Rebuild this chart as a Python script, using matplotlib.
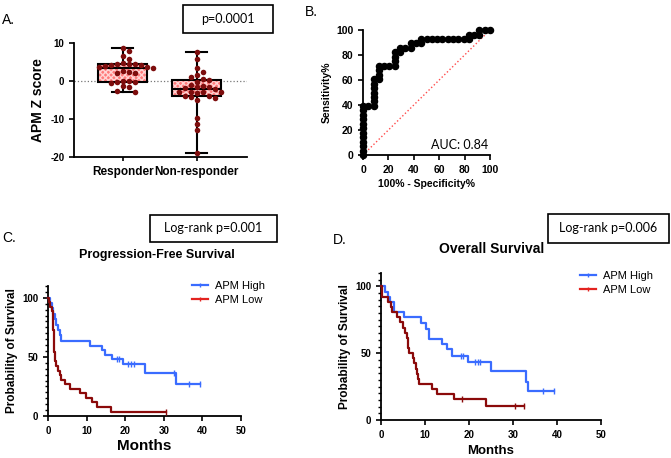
import matplotlib
matplotlib.use("Agg")
import matplotlib.pyplot as plt
from matplotlib.patches import PathPatch, Rectangle
from matplotlib.lines import Line2D
from matplotlib.ticker import MultipleLocator
import numpy as np

plt.rcParams['font.family'] = ['Liberation Sans', 'DejaVu Sans']
plt.rcParams['axes.unicode_minus'] = False
plt.rcParams['axes.linewidth'] = 1.3
plt.rcParams['xtick.major.width'] = 1.2
plt.rcParams['ytick.major.width'] = 1.2
plt.rcParams['ytick.minor.width'] = 1.0
plt.rcParams['xtick.major.size'] = 3.5
plt.rcParams['ytick.major.size'] = 3.5
plt.rcParams['ytick.minor.size'] = 2.2

# ---- data ----
groups = ["Responder", "Non-responder"]
responder = [8.7, 7.9, 6.6, 5.9, 4.7, 4.4, 4.4, 4.4, 4.2, 4.2, 4.0, 3.8, 3.6, 3.5,
             2.7, 2.5, 2.0, 2.0, 0.1, -0.1, -0.2, -0.3, -0.5, -1.4, -1.6, -2.7, -2.8]
non_responder = [7.7, 5.8, 3.3, 2.3, 1.6, 1.0, 0.4, 0.2, -0.2, -1.0, -1.4, -1.5, -1.7,
                 -1.9, -2.0, -2.8, -2.8, -2.8, -3.0, -3.2, -3.9, -4.0, -4.3, -4.4,
                 -5.0, -9.7, -11.2, -13.0, -18.9]

roc_fpr = [0, 0, 0, 0, 0, 0, 0, 0, 0, 0, 0, 0,
           4.2, 8.3, 8.3, 8.3, 8.3, 8.3, 8.3, 8.3,
           12.5, 12.5, 12.5, 12.5, 16.7, 20.8, 25, 25, 25, 25,
           29.2, 29.2, 33.3, 37.5, 37.5, 41.7, 45.8, 45.8,
           50, 54.2, 58.3, 62.5, 66.7, 70.8, 75, 79.2, 83.3, 83.3,
           87.5, 91.7, 91.7, 95.8, 100]
roc_tpr = [0, 3.6, 7.1, 10.7, 14.3, 17.9, 21.4, 25, 28.6, 32.1, 35.7, 39.3,
           39.3, 39.3, 42.9, 46.4, 50, 53.6, 57.1, 60.7,
           60.7, 64.3, 67.9, 71.4, 71.4, 71.4, 71.4, 75, 78.6, 82.1,
           82.1, 85.7, 85.7, 85.7, 89.3, 89.3, 89.3, 92.9,
           92.9, 92.9, 92.9, 92.9, 92.9, 92.9, 92.9, 92.9, 92.9, 96.4,
           96.4, 96.4, 100, 100, 100]
auc_label = "AUC: 0.84"

# Kaplan-Meier step curves (time of drop, survival after drop), end of follow-up, censor times
pfs_high_t = [0, 0.5, 1.0, 1.4, 1.8, 2.2, 2.7, 3.0, 3.3, 10.9, 13.9, 14.8, 16.5, 19.5, 25.1, 33.2]
pfs_high_s = [100, 95.5, 91, 86.4, 81.8, 77.3, 72.7, 68.2, 63.6, 59.5, 55.5, 51.5, 48, 43.8, 36, 27.5]
pfs_high_end = 39.4
pfs_high_cens = [18.0, 18.5, 20.6, 21.4, 22.3, 32.6, 36.6, 39.4]

pfs_low_t = [0, 0.3, 0.6, 1.0, 1.2, 1.3, 1.35, 1.4, 1.45, 1.5, 1.55, 1.6, 1.65, 1.7, 1.8,
             2.2, 2.6, 3.0, 3.4, 4.5, 5.8, 8.4, 9.9, 11.4, 12.7, 16.4]
pfs_low_s = [100, 96.2, 92.3, 88.5, 84.6, 80.8, 76.9, 73.1, 69.2, 65.4, 61.5, 57.7, 53.8, 50,
             46.2, 42.3, 38.5, 34.6, 30.8, 26.9, 23.1, 19.2, 15.4, 11.5, 7.7, 3.8]
pfs_low_end = 30.6
pfs_low_cens = [30.6]

os_high_t = [0, 0.9, 1.5, 2.1, 2.9, 5.2, 9.0, 10.3, 10.8, 13.9, 15.0, 16.1, 19.8, 25.0, 33.0, 33.4]
os_high_s = [100, 96, 92, 88, 80.5, 76.8, 72.5, 68, 60.3, 56.8, 53.5, 47.7, 43.4, 36.4, 28.8, 22]
os_high_end = 39.4
os_high_cens = [18.2, 18.6, 21.4, 22.0, 22.6, 36.8, 39.4]

os_low_t = [0, 0.2, 1.5, 2.3, 2.5, 3.6, 4.4, 5.0, 5.5, 5.8, 6.1, 6.2, 6.3, 7.3, 7.6, 7.9,
            8.1, 8.4, 8.6, 11.6, 12.7, 16.5, 23.9]
os_low_s = [100, 92.3, 88.5, 84.6, 80.8, 76.9, 73.1, 69.2, 65.4, 61.5, 57.7, 53.8, 50,
            46.2, 42.3, 38.5, 34.6, 30.8, 26.9, 23.1, 19.2, 15.4, 10.3]
os_low_end = 32.6
os_low_cens = [18.4, 30.4, 32.6]

BLUE = "#3a6cff"
MAROON = "#8b0a0a"
LEG_RED = "#e3231f"
DOT = "#7d0d0d"


def swarm(vals, dx_px=74.0, dy_px=3.8, d=6.0):
    # simple deterministic beeswarm offsets in data units
    order = np.argsort(vals)[::-1]
    placed = []
    offs = np.zeros(len(vals))
    cands = [0]
    for k in range(1, 15):
        cands += [k * d / dx_px, -k * d / dx_px]
    for i in order:
        y = vals[i]
        for c in cands:
            if all(((c - px) * dx_px) ** 2 + ((y - py) * dy_px) ** 2 >= (d * 0.95) ** 2
                   for px, py in placed):
                offs[i] = c
                placed.append((c, y))
                break
    return offs


def km(ax, t, s, end, cens, color):
    tt = list(t) + [end]
    ss = list(s) + [s[-1]]
    ax.step(tt, ss, where='post', color=color, lw=1.6, clip_on=False, zorder=3)
    cy = [ss[np.searchsorted(tt, c, side='right') - 1] for c in cens]
    ax.plot(cens, cy, ls='none', marker='|', ms=4, mew=1.0, color=color,
            clip_on=False, zorder=3)


fig = plt.figure(figsize=(6.71, 4.58), dpi=100)
W, H = 671.0, 458.0


def fx(px):
    return px / W


def fy(py):
    return 1 - py / H


def boxtext(x0, y0, x1, y1, txt):
    fig.patches.append(Rectangle((fx(x0), fy(y1)), fx(x1) - fx(x0), fy(y0) - fy(y1),
                                 transform=fig.transFigure, fill=False, ec='black', lw=1.2))
    fig.text(fx((x0 + x1) / 2), fy((y0 + y1) / 2), txt, ha='center', va='center',
             fontsize=9, family=['Lato', 'DejaVu Sans'])


def style(ax, size=7):
    ax.spines['top'].set_visible(False)
    ax.spines['right'].set_visible(False)
    for lab in ax.get_xticklabels() + ax.get_yticklabels():
        lab.set_fontweight('bold')
        lab.set_fontsize(size)


# ---- A: box plot ----
axA = fig.add_axes([fx(74), fy(157), fx(247) - fx(74), fy(43) - fy(157)])
bp = axA.boxplot([responder, non_responder], positions=[0, 1], widths=0.66, whis=(0, 100),
                 patch_artist=True, capwidths=0.28, showfliers=False,
                 boxprops=dict(facecolor='none', edgecolor='black', lw=1.5),
                 medianprops=dict(color='black', lw=1.5),
                 whiskerprops=dict(color='black', lw=1.5),
                 capprops=dict(color='black', lw=1.5))
for b in bp['boxes']:
    b.set_zorder(2)
    axA.add_patch(PathPatch(b.get_path(), facecolor='#ff7a7a', edgecolor='#ffd4d4',
                            lw=0, hatch='xxxxxx', zorder=1))
for k, vals in enumerate([responder, non_responder]):
    offs = swarm(np.array(vals))
    axA.scatter(k + offs, vals, s=16, color=DOT, zorder=4, lw=0)
axA.axhline(0, ls=':', color='#777777', lw=0.9, zorder=0)
axA.set_xlim(-0.66, 1.68)
axA.set_ylim(-20, 10)
axA.set_yticks([-20, -10, 0, 10])
axA.set_xticks([0, 1])
axA.set_xticklabels(groups)
axA.tick_params(axis='x', length=3)
style(axA)
for lab in axA.get_xticklabels():
    lab.set_fontsize(8.5)
axA.set_ylabel("APM Z score", fontsize=10, fontweight='bold', labelpad=4)
fig.text(fx(2), fy(20), "A.", fontsize=10, va='center')
boxtext(183, 5, 273, 33, "p=0.0001")

# ---- B: ROC ----
axB = fig.add_axes([fx(363), fy(155), fx(490) - fx(363), fy(30) - fy(155)])
axB.plot([0, 100], [0, 100], ls=':', color='#ff4a4a', lw=1.0, zorder=1)
axB.plot(roc_fpr, roc_tpr, color='black', lw=1.0, marker='o', ms=4.4, clip_on=False, zorder=3)
axB.set_xlim(0, 100)
axB.set_ylim(0, 100)
axB.set_xticks(range(0, 101, 20))
axB.set_yticks(range(0, 101, 20))
style(axB, 7.5)
axB.set_xlabel("100% - Specificity%", fontsize=7.5, fontweight='bold', labelpad=3)
axB.set_ylabel("Sensitivity%", fontsize=7.5, fontweight='bold', labelpad=3)
axB.text(0.99, 0.03, auc_label, transform=axB.transAxes, ha='right', va='bottom',
         fontsize=9, family=['Lato', 'DejaVu Sans'])
fig.text(fx(305), fy(12), "B.", fontsize=10, va='center')

# ---- C: PFS ----
axC = fig.add_axes([fx(48), fy(416), fx(241) - fx(48), fy(286) - fy(416)])
km(axC, pfs_high_t, pfs_high_s, pfs_high_end, pfs_high_cens, BLUE)
km(axC, pfs_low_t, pfs_low_s, pfs_low_end, pfs_low_cens, MAROON)
axC.set_xlim(0, 50)
axC.set_ylim(0, 110)
axC.set_xticks(range(0, 51, 10))
axC.set_yticks([0, 50, 100])
axC.yaxis.set_minor_locator(MultipleLocator(5))
style(axC)
axC.set_xlabel("Months", fontsize=11, fontweight='bold', labelpad=2)
axC.set_ylabel("Probability of Survival", fontsize=8.5, fontweight='bold', labelpad=3)
fig.text(fx(157), fy(255), "Progression-Free Survival", fontsize=9, fontweight='bold',
         ha='center', va='center')
fig.text(fx(2), fy(238), "C.", fontsize=10, va='center')
boxtext(150, 215, 277, 242, "Log-rank p=0.001")

# ---- D: OS ----
axD = fig.add_axes([fx(381), fy(420), fx(601) - fx(381), fy(273) - fy(420)])
km(axD, os_high_t, os_high_s, os_high_end, os_high_cens, BLUE)
km(axD, os_low_t, os_low_s, os_low_end, os_low_cens, MAROON)
axD.set_xlim(0, 50)
axD.set_ylim(0, 110)
axD.set_xticks(range(0, 51, 10))
axD.set_yticks([0, 50, 100])
axD.yaxis.set_minor_locator(MultipleLocator(5))
style(axD)
axD.set_xlabel("Months", fontsize=9.5, fontweight='bold', labelpad=4)
axD.set_ylabel("Probability of Survival", fontsize=8.5, fontweight='bold', labelpad=3)
fig.text(fx(492), fy(249), "Overall Survival", fontsize=10, fontweight='bold',
         ha='center', va='center')
fig.text(fx(333), fy(240), "D.", fontsize=10, va='center')
boxtext(548, 214, 669, 243, "Log-rank p=0.006")

handles = [Line2D([], [], color=BLUE, lw=1.6, marker='|', ms=3),
           Line2D([], [], color=LEG_RED, lw=1.6, marker='|', ms=3)]
for ax, (lx, ly) in [(axC, (186, 275)), (axD, (574, 265))]:
    ax.legend(handles, ["APM High", "APM Low"], loc='upper left',
              bbox_to_anchor=(fx(lx), fy(ly)), bbox_transform=fig.transFigure,
              frameon=False, fontsize=8, handlelength=1.5, handletextpad=0.6,
              labelspacing=0.4, borderpad=0)

fig.savefig("out.png", dpi=100)
